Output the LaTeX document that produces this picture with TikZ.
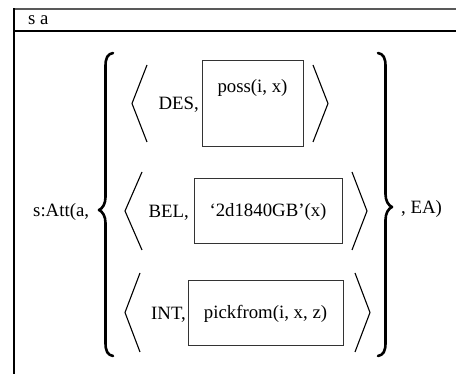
\documentclass[tikz,border=0pt]{standalone}
\usepackage{fontspec}
\setmainfont{Liberation Serif}
\usetikzlibrary{calc}
\begin{document}
\begin{tikzpicture}[x=1pt,y=-1pt,
  font=\fontsize{18.8}{22}\selectfont,
  txt/.style={inner sep=0pt},
  frame/.style={draw=black, line width=1.2pt},
  tframe/.style={draw=black!65, line width=1.6pt},
  formbox/.style={draw=black!80, line width=0.8pt, inner sep=0pt},
  angle/.style={draw=black, line width=1.1pt},
  brace/.style={draw=black, line width=2.6pt, line cap=round, line join=round}]
\useasboundingbox (0,0) rectangle (456,374);
% frame with title row
\draw[tframe] (14,9) -- (456,9);
\draw[frame] (14,31) -- (456,31);
\draw[frame] (14,8.2) -- (14,374);
\node[txt, anchor=base west] (title) at (28,25) {s a};

% predicate head and tail
\node[txt, anchor=base west] (att) at (33,217) {s:Att(a,};
\node[txt, anchor=base west] (ea) at (401,214) {, EA)};

% set braces
\draw[brace] (113,53) .. controls (107.5,54) and (105.5,58) .. (105.5,66)
  -- (105.5,197) .. controls (105.5,204) and (102.5,208.5) .. (99,210)
  .. controls (102.5,211.5) and (105.5,216) .. (105.5,223)
  -- (105.5,343) .. controls (105.5,351) and (107.5,355) .. (113,356);
\draw[brace] (378,53) .. controls (383.5,54) and (385.5,58) .. (385.5,66)
  -- (385.5,194) .. controls (385.5,201) and (388.5,205.5) .. (392,207)
  .. controls (388.5,208.5) and (385.5,213) .. (385.5,220)
  -- (385.5,343) .. controls (385.5,351) and (383.5,355) .. (378,356);

% attitude 1: desire
\node[formbox, minimum width=101pt, minimum height=86pt] (b1) at (252.5,103) {};
\node[txt, anchor=base] (f1) at ($(b1.north)+(0,33)$) {poss(i, x)};
\node[txt, anchor=base east] (m1) at (199,110) {DES,};
\draw[angle] (147,65) -- (132,103.5) -- (147,142);
\draw[angle] (313,65) -- (328,103.5) -- (313,142);

% attitude 2: belief
\node[formbox, minimum width=148pt, minimum height=65pt] (b2) at (268,210.5) {};
\node[txt, anchor=base] (f2) at ($(b2.center)+(0,6.5)$) {`2d1840GB'(x)};
\node[txt, anchor=base east] (m2) at (189,218) {BEL,};
\draw[angle] (142,172) -- (125,211) -- (142,250);
\draw[angle] (352,172) -- (367,211) -- (352,250);

% attitude 3: intention
\node[formbox, minimum width=155pt, minimum height=65pt] (b3) at (265.5,312.5) {};
\node[txt, anchor=base] (f3) at ($(b3.center)+(0,6.5)$) {pickfrom(i, x, z)};
\node[txt, anchor=base east] (m3) at (186,320) {INT,};
\draw[angle] (140,273) -- (125,312.5) -- (140,352);
\draw[angle] (355,273) -- (370,312.5) -- (355,352);
\end{tikzpicture}
\end{document}
